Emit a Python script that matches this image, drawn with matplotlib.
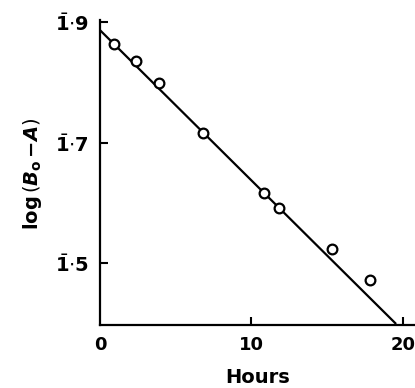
import numpy as np
import matplotlib
matplotlib.use("Agg")
import matplotlib.pyplot as plt

plt.rcParams['font.family'] = ['DejaVu Sans']
plt.rcParams['mathtext.fontset'] = 'dejavusans'

# Observed points
hours = [0.9, 2.4, 3.9, 6.8, 10.8, 11.8, 15.3, 17.85]
log_vals = [1.863, 1.835, 1.798, 1.715, 1.616, 1.592, 1.524, 1.472]

# Fitted line end points
line_hours = [0.0, 19.5]
line_vals = [1.886, 1.401]

xticks = [0, 10, 20]
xtick_labels = ['0', '10', '20']
yticks = [1.5, 1.7, 1.9]
ytick_labels = [r'$\bar{\mathbf{1}}{\cdot}\mathbf{5}$',
                r'$\bar{\mathbf{1}}{\cdot}\mathbf{7}$',
                r'$\bar{\mathbf{1}}{\cdot}\mathbf{9}$']

fig = plt.figure(figsize=(4.15, 3.88), dpi=100)
ax = fig.add_axes([100/415, 1-325/388, 1-100/415, (325-21.7)/388])

ax.plot(line_hours, line_vals, color='black', lw=1.6, zorder=2)
ax.plot(hours, log_vals, 'o', ms=7, mfc='white', mec='black', mew=1.6, zorder=3)

ax.set_xlim(0, 20.8)
ax.set_ylim(1.398, 1.9)
ax.spines['top'].set_visible(False)
ax.spines['right'].set_visible(False)
ax.spines['left'].set_linewidth(1.6)
ax.spines['bottom'].set_linewidth(1.6)
ax.spines['left'].set_bounds(1.398, 1.903)

ax.set_xticks(xticks)
ax.set_xticklabels(xtick_labels, fontsize=13, fontweight='bold')
ax.set_yticks(yticks)
ax.set_yticklabels(ytick_labels, fontsize=14)
ax.tick_params(axis='both', direction='in', length=6, width=1.5, pad=8)
ax.xaxis.get_major_ticks()[0].tick1line.set_visible(False)

ax.set_xlabel('Hours', fontsize=14, fontweight='bold', labelpad=10)
ax.set_ylabel(r'$\mathbf{log}\,(\mathbfit{B}_{\mathbf{o}}\,\mathbf{-}\mathbfit{A})$',
              fontsize=14, labelpad=8)

fig.savefig('out.png', dpi=100)
